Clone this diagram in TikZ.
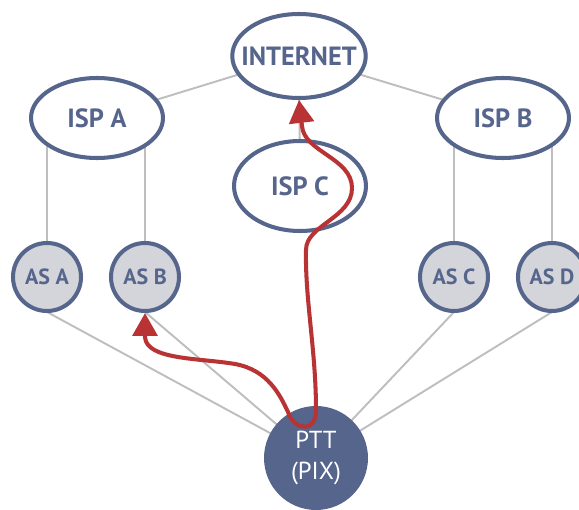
\documentclass[tikz,border=0pt]{standalone}
\usepackage{fontspec}
\setmainfont{PT Sans}
\usetikzlibrary{shapes.geometric,arrows.meta}
\definecolor{netblue}{RGB}{86,101,140}
\definecolor{asgray}{RGB}{212,213,218}
\definecolor{linkgray}{RGB}{190,190,190}
\definecolor{pathred}{RGB}{185,50,52}
\begin{document}
\begin{tikzpicture}[x=0.02cm,y=-0.02cm,
  isp/.style={ellipse,draw=netblue,line width=2.3pt,fill=white,text=netblue,
    font=\bfseries\fontsize{15}{15}\selectfont,minimum width=2.64cm,minimum height=1.6cm},
  as/.style={circle,draw=netblue,line width=2.3pt,fill=asgray,text=netblue,
    font=\bfseries\fontsize{12.5}{12.5}\selectfont,minimum size=1.36cm,inner sep=0pt},
  link/.style={draw=linkgray,line width=1.1pt}]
\useasboundingbox (0,0) rectangle (579,510);
% links first, nodes cover them
\coordinate (cinet) at (299,56);
\coordinate (cptt) at (316,458);
\path[link] (97,118) -- (cinet) -- (503,118)
            (cinet) -- (300,186)
            (47,118) -- (47,277)
            (145,118) -- (145,277)
            (454,118) -- (454,277)
            (552,118) -- (552,277)
            (47,312) -- (cptt)
            (145,312) -- (cptt)
            (454,312) -- (cptt)
            (552,312) -- (cptt);
% nodes
\node (internet) [isp,inner xsep=-6pt,minimum height=1.68cm] at (cinet) {INTERNET};
\node (ispA) [isp] at (97,118) {ISP A};
\node (ispB) [isp] at (503,118) {ISP B};
\node (ispC) [isp,minimum height=1.8cm] at (300,186) {ISP C};
\node (asA) [as] at (47,277) {AS A};
\node (asB) [as] at (145,277) {AS B};
\node (asC) [as] at (454,277) {AS C};
\node (asD) [as] at (552,277) {AS D};
\node (ptt) [circle,fill=netblue,text=white,minimum size=2.08cm,align=center,
  font=\fontsize{14}{18}\selectfont] at (cptt) {PTT\\(PIX)};
% traffic path
\draw[pathred,line width=2.3pt,{Triangle[length=13pt,width=14pt]}-{Triangle[length=13pt,width=14pt]}]
  (asB.south) -- (145,337) .. controls (146,360) and (200,358) .. (235,364)
  .. controls (268,370) and (280,395) .. (288,412)
  .. controls (294,430) and (316,434) .. (316,410)
  .. controls (316,350) and (305,300) .. (306,250)
  .. controls (306,225) and (352,218) .. (352,188)
  .. controls (352,158) and (304,152) .. (302,126)
  -- (internet.south);
\end{tikzpicture}
\end{document}
